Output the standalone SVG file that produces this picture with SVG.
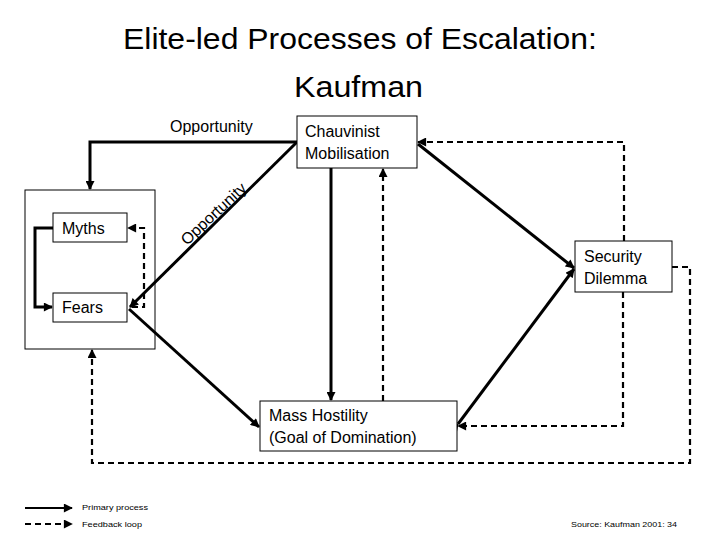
<svg xmlns="http://www.w3.org/2000/svg" width="720" height="540" viewBox="0 0 720 540">
<style>
  text { font-family: "Liberation Sans", Arial, sans-serif; fill: #000; }
  .title { font-size: 30px; text-anchor: middle; }
  .lbl { font-size: 16px; }
  .small { font-size: 8px; }
  .box { fill: #fff; stroke: #000; stroke-width: 1; }
  .solid { fill: none; stroke: #000; stroke-width: 3; }
  .dash { fill: none; stroke: #000; stroke-width: 2.2; stroke-dasharray: 6 4; }
</style>
<defs>
  <marker id="ah" viewBox="0 0 10 10" refX="9" refY="5" markerWidth="10" markerHeight="9" markerUnits="userSpaceOnUse" orient="auto">
    <path d="M0,0 L10,5 L0,10 z" fill="#000"/>
  </marker>
</defs>
<rect width="720" height="540" fill="#fff"/>

<text class="title" x="360" y="49" textLength="474" lengthAdjust="spacingAndGlyphs">Elite-led Processes of Escalation:</text>
<text class="title" x="358.5" y="97" textLength="129" lengthAdjust="spacingAndGlyphs">Kaufman</text>

<g id="outer">
  <rect class="box" x="25" y="190" width="130" height="159"/>
</g>

<g id="connectors">
  <path class="solid" d="M297,142 H90 V189" marker-end="url(#ah)"/>
  <path class="solid" d="M297,142 L130,307" marker-end="url(#ah)"/>
  <path class="solid" d="M53,228 H35 V307 H52" marker-end="url(#ah)"/>
  <path class="dash" d="M132,307 H144 V228 H128" marker-end="url(#ah)"/>
  <path class="solid" d="M129,309 L259,427" marker-end="url(#ah)"/>
  <path class="solid" d="M331,168 V400" marker-end="url(#ah)"/>
  <path class="dash" d="M383,401 V169" marker-end="url(#ah)"/>
  <path class="solid" d="M418,144 L574,268" marker-end="url(#ah)"/>
  <path class="dash" d="M624,241 V142 H418" marker-end="url(#ah)"/>
  <path class="solid" d="M458,424 L574,269" marker-start="url(#ah)" marker-end="url(#ah)"/>
  <path class="dash" d="M623,292 V426 H458" marker-end="url(#ah)"/>
  <path class="dash" d="M672,267 H690 V463 H92 V350" marker-end="url(#ah)"/>
  <text class="lbl" x="170" y="132">Opportunity</text>
  <text class="lbl" x="187" y="246" transform="rotate(-43 187 246)">Opportunity</text>
</g>

<g id="chauvinist">
  <rect class="box" x="297" y="116" width="120" height="52"/>
  <text class="lbl" x="305" y="137">Chauvinist</text>
  <text class="lbl" x="305" y="159">Mobilisation</text>
</g>

<g id="myths">
  <rect class="box" x="53" y="213" width="74" height="29"/>
  <text class="lbl" x="62" y="234">Myths</text>
</g>

<g id="fears">
  <rect class="box" x="53" y="293" width="74" height="29"/>
  <text class="lbl" x="62" y="313">Fears</text>
</g>

<g id="security">
  <rect class="box" x="575" y="241" width="97" height="51"/>
  <text class="lbl" x="584" y="262">Security</text>
  <text class="lbl" x="584" y="284">Dilemma</text>
</g>

<g id="mass">
  <rect class="box" x="260" y="401" width="197" height="50"/>
  <text class="lbl" x="269" y="421">Mass Hostility</text>
  <text class="lbl" x="269" y="443">(Goal of Domination)</text>
</g>

<g id="legend">
  <line class="solid" x1="25" y1="508" x2="72" y2="508" style="stroke-width:2" marker-end="url(#ah)"/>
  <line class="dash" x1="25" y1="524" x2="72" y2="524" marker-end="url(#ah)"/>
  <text class="small" x="82" y="510" textLength="66" lengthAdjust="spacingAndGlyphs">Primary process</text>
  <text class="small" x="82" y="527" textLength="60" lengthAdjust="spacingAndGlyphs">Feedback loop</text>
  <text class="small" x="571" y="527" textLength="106" lengthAdjust="spacingAndGlyphs">Source: Kaufman 2001: 34</text>
</g>
</svg>
